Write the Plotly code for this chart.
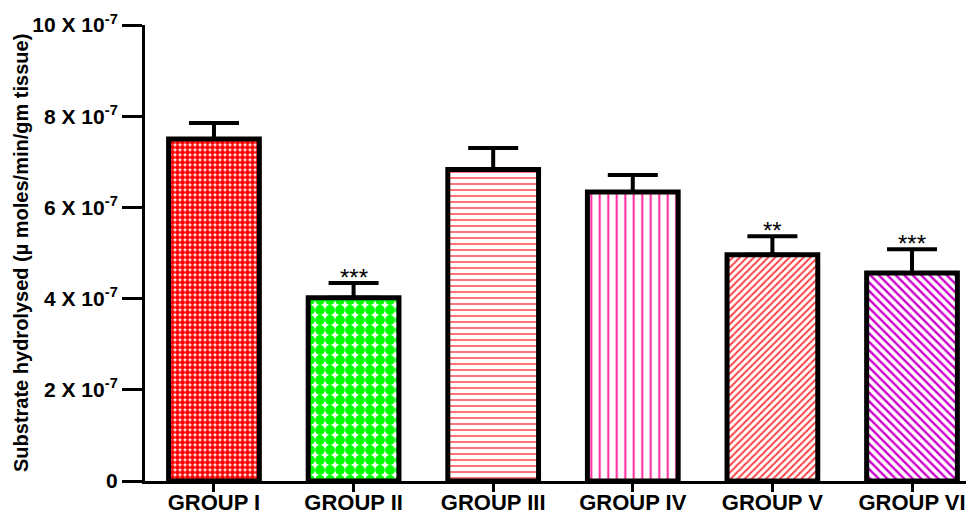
import plotly.graph_objects as go

groups = ["GROUP I", "GROUP II", "GROUP III", "GROUP IV", "GROUP V", "GROUP VI"]
means = [7.50e-7, 4.02e-7, 6.83e-7, 6.34e-7, 4.96e-7, 4.56e-7]
sems = [0.35e-7, 0.32e-7, 0.47e-7, 0.37e-7, 0.41e-7, 0.52e-7]
stars = ["", "***", "", "", "**", "***"]
tick_vals = [0, 2e-7, 4e-7, 6e-7, 8e-7, 10e-7]
tick_text = ["0", "2 X 10<sup>-7</sup>", "4 X 10<sup>-7</sup>", "6 X 10<sup>-7</sup>",
             "8 X 10<sup>-7</sup>", "10 X 10<sup>-7</sup>"]

patterns = [
    dict(shape=".", fgcolor="#ff0000", bgcolor="white", size=5, solidity=0.75, fillmode="replace"),
    dict(shape=".", fgcolor="#00ff00", bgcolor="white", size=10, solidity=0.75, fillmode="replace"),
    dict(shape="-", fgcolor="#ff5a5a", bgcolor="white", size=6, solidity=0.28, fillmode="replace"),
    dict(shape="|", fgcolor="#ff1493", bgcolor="white", size=8.5, solidity=0.22, fillmode="replace"),
    dict(shape="/", fgcolor="#ff4040", bgcolor="white", size=5, solidity=0.4, fillmode="replace"),
    dict(shape="\\", fgcolor="#cc00cc", bgcolor="white", size=6, solidity=0.4, fillmode="replace"),
]

font_family = "Arial, Liberation Sans, sans-serif"

# page body has an 8px default margin; compensate so the plot area sits at
# left=145, top=25, bottom=481 in the 974x512 window
PAGE_OFF = 8
W, H = 974 - PAGE_OFF, 512 - PAGE_OFF
L, T, B = 145 - PAGE_OFF, 25 - PAGE_OFF, 31
plot_w = W - L

fig = go.Figure()
for i, g in enumerate(groups):
    fig.add_trace(go.Bar(
        x=[g], y=[means[i]], width=0.65,
        marker=dict(color="white", line=dict(color="black", width=5), pattern=patterns[i]),
        error_y=dict(type="data", symmetric=False, array=[sems[i]], arrayminus=[0],
                     color="black", thickness=4, width=25),
        showlegend=False,
    ))
    if stars[i]:
        fig.add_annotation(x=g, y=means[i] + sems[i], text=stars[i], showarrow=False,
                           yanchor="bottom", yshift=-10,
                           font=dict(family=font_family, size=24, color="black"))

fig.add_annotation(xref="paper", yref="paper", x=(21 - 145) / plot_w, y=0.5,
                   text="<b>Substrate hydrolysed (µ moles/min/gm tissue)</b>",
                   textangle=-90, showarrow=False, xanchor="center", yanchor="middle",
                   font=dict(family=font_family, size=20, color="black"))

fig.update_layout(
    width=W, height=H,
    margin=dict(l=L, r=0, t=T, b=B),
    plot_bgcolor="white", paper_bgcolor="white",
    bargap=0.35,
    xaxis=dict(range=[-0.494, 5.444], showline=True, linecolor="black", linewidth=3,
               ticks="outside", ticklen=8, tickwidth=3, tickcolor="black",
               showgrid=False, zeroline=False, automargin=False,
               ticklabelstandoff=-8,
               tickfont=dict(family=font_family, size=22, color="black", weight="bold")),
    yaxis=dict(range=[0, 1e-6], showline=True, linecolor="black", linewidth=3,
               ticks="outside", ticklen=20, tickwidth=3, tickcolor="black",
               tickvals=tick_vals, ticktext=tick_text,
               showgrid=False, zeroline=False, automargin=False,
               tickfont=dict(family=font_family, size=21, color="black", weight="bold")),
)

fig.write_html("out.html")
